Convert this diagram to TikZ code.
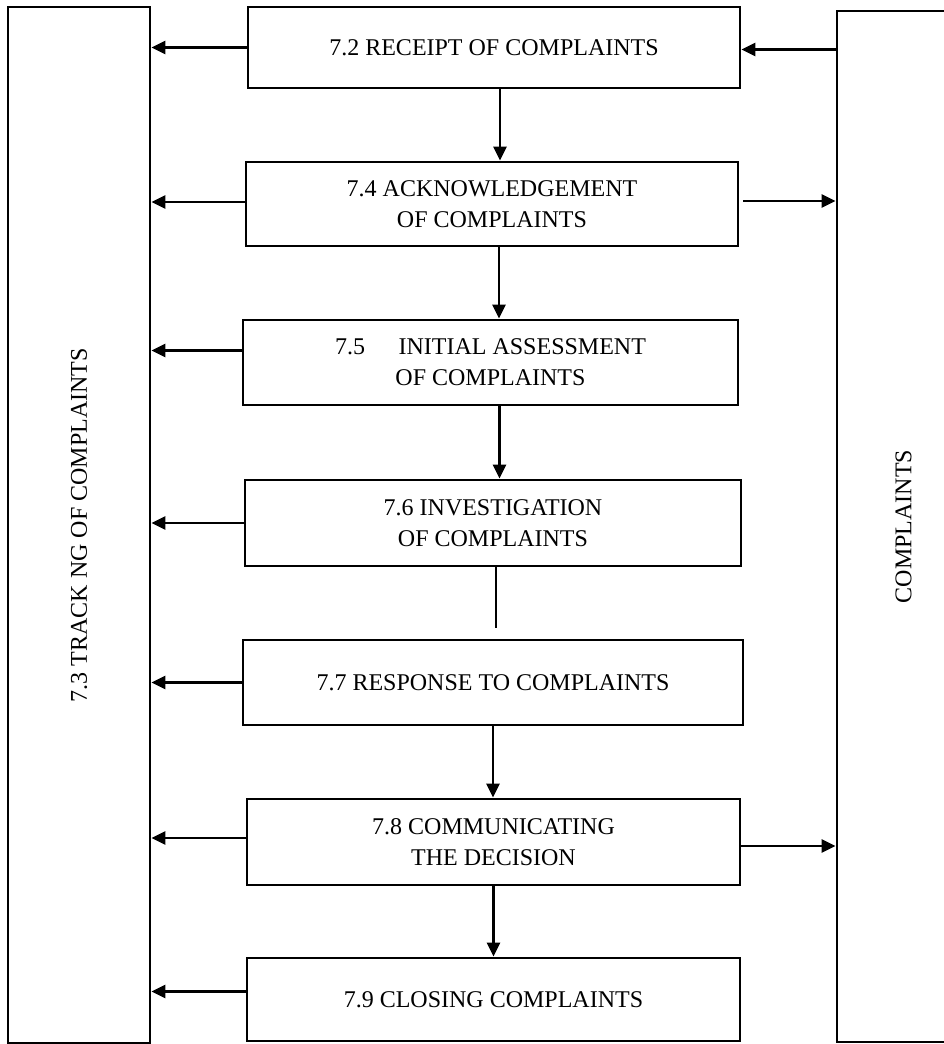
\documentclass[tikz,border=0pt]{standalone}
\usepackage{fontspec}
\setmainfont{Liberation Serif}
\usetikzlibrary{arrows.meta}
\tikzset{
	procbox/.style={draw,line width=2.8pt,align=center,font=\fontsize{24}{31}\selectfont},
	sidebox/.style={draw,line width=2.8pt,rotate=90,font=\fontsize{24}{31}\selectfont},
	flow/.style={line width=2.8pt,-{Triangle[length=14pt,width=13pt]}}
}
\begin{document}
\begin{tikzpicture}[x=1pt,y=-1pt]
	\useasboundingbox (0,0) rectangle (944,1044);
	% side boxes (rotated, so their south side is the right edge)
	\node[sidebox,minimum width=1036pt,minimum height=142pt] (track) at (79,525) {7.3 TRACK NG OF COMPLAINTS};
	\node[sidebox,minimum width=1031pt,minimum height=133pt] (cust) at (903.5,526.5) {COMPLAINTS};
	% process steps
	\node[procbox,minimum width=492pt,minimum height=81pt] (rec) at (494,47.5) {7.2 RECEIPT OF COMPLAINTS};
	\node[procbox,minimum width=492pt,minimum height=84pt] (ack) at (492,204) {7.4 ACKNOWLEDGEMENT\\OF COMPLAINTS};
	\node[procbox,minimum width=495pt,minimum height=85pt] (ini) at (490.5,362.5) {7.5\hspace{1.4em}INITIAL ASSESSMENT\\OF COMPLAINTS};
	\node[procbox,minimum width=496pt,minimum height=86pt] (inv) at (493,523) {7.6 INVESTIGATION\\OF COMPLAINTS};
	\node[procbox,minimum width=500pt,minimum height=85pt] (resp) at (493,682.5) {7.7 RESPONSE TO COMPLAINTS};
	\node[procbox,minimum width=493pt,minimum height=86pt] (comm) at (493.5,842) {7.8 COMMUNICATING\\THE DECISION};
	\node[procbox,minimum width=493pt,minimum height=83pt] (clos) at (493.5,999.5) {7.9 CLOSING COMPLAINTS};
	\coordinate (gap) at (496,628);
	% down the chain
	\draw[flow] ([xshift=6pt]rec.south) -- ([xshift=6pt]rec.south |- ack.north);
	\draw[flow] ([xshift=7pt]ack.south) -- ([xshift=7pt]ack.south |- ini.north);
	\draw[flow] ([xshift=9pt]ini.south) -- ([xshift=9pt]ini.south |- inv.north);
	\draw[line width=2.8pt] (inv.south -| gap) -- (gap);
	\draw[flow] (resp.south) -- (resp.south |- comm.north);
	\draw[flow] (comm.south) -- (comm.south |- clos.north);
	% into tracking
	\draw[flow] (rec.west) -- (rec.west -| track.south);
	\draw[flow] ([yshift=2pt]ack.west) -- ([yshift=2pt]ack.west -| track.south);
	\draw[flow] ([yshift=12pt]ini.west) -- ([yshift=12pt]ini.west -| track.south);
	\draw[flow] (inv.west) -- (inv.west -| track.south);
	\draw[flow] (resp.west) -- (resp.west -| track.south);
	\draw[flow] ([yshift=4pt]comm.west) -- ([yshift=4pt]comm.west -| track.south);
	\draw[flow] ([yshift=8pt]clos.west) -- ([yshift=8pt]clos.west -| track.south);
	% to and from the complainant
	\draw[flow] ([yshift=-2pt]rec.east -| cust.north) -- ([yshift=-2pt]rec.east);
	\draw[flow] ([xshift=4pt,yshift=3pt]ack.east) -- ([yshift=3pt]ack.east -| cust.north);
	\draw[flow] ([yshift=-4pt]comm.east) -- ([yshift=-4pt]comm.east -| cust.north);
\end{tikzpicture}
\end{document}
